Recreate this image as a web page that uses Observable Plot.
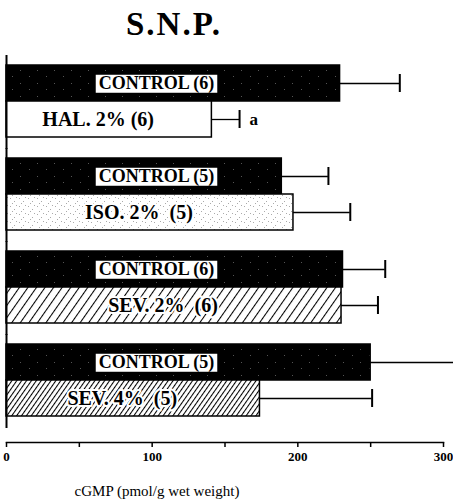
<!DOCTYPE html>
<html><head><meta charset="utf-8">
<script src="https://cdn.jsdelivr.net/npm/d3@7"></script>
<script src="https://cdn.jsdelivr.net/npm/@observablehq/plot@0.6"></script>
<style>
body{margin:0;background:#fff;width:453px;height:503px;overflow:hidden;font-family:"Liberation Serif","Times New Roman",serif;}
#title{height:55px;box-sizing:border-box;padding-top:8px;width:348px;text-align:center;font-size:33px;font-weight:bold;letter-spacing:2px;line-height:1;}
#xlabel{width:314px;text-align:center;font-size:15px;line-height:1;padding-top:9px;}
svg{display:block}
</style></head><body>
<div id="title">S.N.P.</div>
<div id="chart"></div>
<div id="xlabel">cGMP (pmol/g wet weight)</div>
<script>
const groups = ["HAL", "ISO", "SEV2", "SEV4"];
const controlLabels = ["CONTROL (6)", "CONTROL (5)", "CONTROL (6)", "CONTROL (5)"];
const controlMeans = [229, 189, 231, 250];
const controlErr = [41, 32, 29, 58];
const treatLabels = ["HAL. 2% (6)", "ISO. 2%  (5)", "SEV. 2%  (6)", "SEV. 4%  (5)"];
const treatMeans = [141, 197, 230, 174];
const treatErr = [19, 39, 25, 77];
const treatSig = ["a", "", "", ""];
const xTicks = [0, 50, 100, 150, 200, 250, 300];
const xTickLabels = ["0", "", "100", "", "200", "", "300"];

const treatFill = {HAL: "white", ISO: "url(#iso)", SEV2: "url(#sev2)", SEV4: "url(#sev4)"};

const rows = groups.flatMap((g, i) => [
  {group: g, kind: "control", value: controlMeans[i], err: controlErr[i], label: controlLabels[i], sig: ""},
  {group: g, kind: "treatment", value: treatMeans[i], err: treatErr[i], label: treatLabels[i], sig: treatSig[i]}
]);
const ctrl = rows.filter(d => d.kind === "control");
const treat = rows.filter(d => d.kind === "treatment");

const svg = Plot.plot({
  width: 453,
  height: 420,
  marginLeft: 6,
  marginRight: 10,
  marginTop: 10,
  marginBottom: 59,
  style: {fontFamily: "Liberation Serif, Times New Roman, serif", fontSize: "12px", background: "white"},
  x: {domain: [0, 300]},
  y: {domain: ["control", "treatment"], padding: 0, axis: null},
  fy: {domain: groups, paddingInner: 0.226, paddingOuter: 0, axis: null, label: null},
  color: {type: "identity"},
  marks: [
    Plot.barX(rows, {x: "value", y: "kind", fy: "group",
      fill: d => d.kind === "control" ? "url(#ctrl)" : treatFill[d.group],
      stroke: "black", strokeWidth: 1.5}),
    Plot.ruleY(rows, {y: "kind", fy: "group", x1: "value", x2: d => d.value + d.err, stroke: "black", strokeWidth: 1.3}),
    Plot.tickX(rows, {x: d => d.value + d.err, y: "kind", fy: "group", insetTop: 9, insetBottom: 9, stroke: "black", strokeWidth: 2}),
    Plot.ruleX([0], {insetTop: -10, insetBottom: -12, stroke: "black", strokeWidth: 2}),
    Plot.text(ctrl, {y: "kind", fy: "group", text: "label", frameAnchor: "left", textAnchor: "middle", dx: 150,
      fontSize: 18, fontWeight: "bold", fill: "black"}),
    Plot.text(treat, {x: d => d.value / 2, y: "kind", fy: "group", text: "label", dx: -11,
      fontSize: 20, fontWeight: "bold", fill: "black", stroke: "white", strokeWidth: 4}),
    Plot.text(treat.filter(d => d.sig), {x: d => d.value + d.err, y: "kind", fy: "group", text: "sig",
      dx: 10, textAnchor: "start", fontSize: 17, fontWeight: "bold", fill: "black"}),
    Plot.axisX({ticks: xTicks, tickFormat: d => xTickLabels[xTicks.indexOf(d)], tickSize: 5, tickPadding: 4,
      dy: 26, fontWeight: "bold", fontSize: 13, label: null, strokeWidth: 1.5}),
    Plot.frame({anchor: "bottom", facetAnchor: "bottom", dy: 26, strokeWidth: 1.5})
  ]
});

document.getElementById("chart").appendChild(svg);

const s = d3.select(svg);
const defs = s.insert("defs", ":first-child");
const pc = defs.append("pattern").attr("id", "ctrl").attr("patternUnits", "userSpaceOnUse").attr("width", 17).attr("height", 13);
pc.append("rect").attr("width", 17).attr("height", 13).attr("fill", "black");
[[3,2],[12,8]].forEach(([x, y]) => pc.append("rect").attr("x", x).attr("y", y).attr("width", 1).attr("height", 1).attr("fill", "#555"));
const pi = defs.append("pattern").attr("id", "iso").attr("patternUnits", "userSpaceOnUse").attr("width", 9).attr("height", 8);
pi.append("rect").attr("width", 9).attr("height", 8).attr("fill", "white");
[[1,2],[5,5],[7,1],[3,7]].forEach(([x, y]) => pi.append("rect").attr("x", x).attr("y", y).attr("width", 1).attr("height", 1).attr("fill", "#aaa"));
function hatch(id, w) {
  const p = defs.append("pattern").attr("id", id).attr("patternUnits", "userSpaceOnUse")
    .attr("width", w).attr("height", w).attr("patternTransform", "rotate(35)");
  p.append("rect").attr("width", w).attr("height", w).attr("fill", "white");
  p.append("line").attr("x1", 0.5).attr("y1", 0).attr("x2", 0.5).attr("y2", w).attr("stroke", "black").attr("stroke-width", 1.1);
}
hatch("sev2", 7);
hatch("sev4", 4);

s.selectAll("text").style("white-space", "pre");
// white boxes behind the control labels
s.selectAll("text").filter(function () { return controlLabels.includes(this.textContent); }).each(function () {
  const b = this.getBBox();
  const r = document.createElementNS("http://www.w3.org/2000/svg", "rect");
  r.setAttribute("x", b.x - 3);
  r.setAttribute("y", b.y + 1.5);
  r.setAttribute("width", b.width + 6);
  r.setAttribute("height", b.height - 3);
  r.setAttribute("fill", "white");
  r.setAttribute("stroke", "none");
  const t = this.getAttribute("transform");
  if (t) r.setAttribute("transform", t);
  this.parentNode.insertBefore(r, this);
});
</script>
</body></html>
